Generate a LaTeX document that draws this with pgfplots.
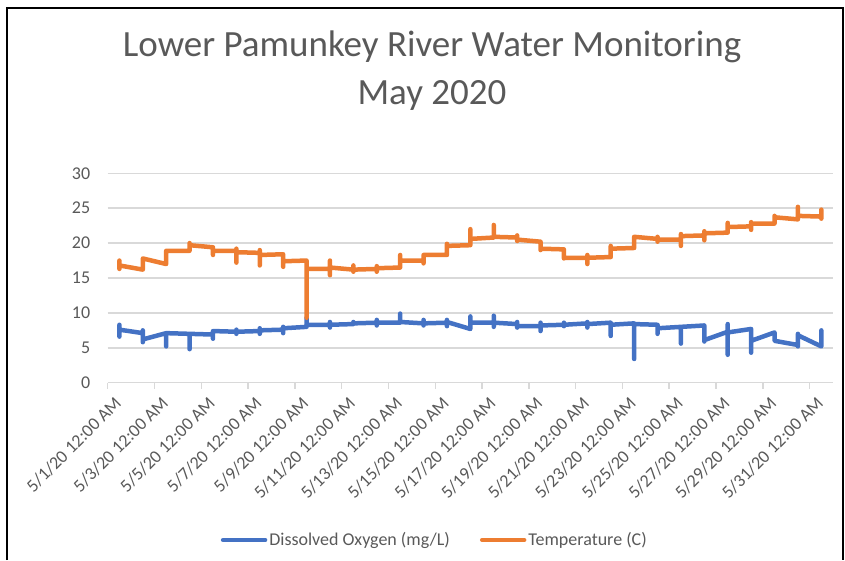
\documentclass[border=0pt]{standalone}
\usepackage{fontspec}
\setmainfont{Carlito}
\usepackage{pgfplots}
\pgfplotsset{compat=1.18}
\definecolor{doblue}{HTML}{4472C4}
\definecolor{temporange}{HTML}{ED7D31}
\definecolor{gridgray}{HTML}{D9D9D9}
\definecolor{txtgray}{HTML}{595959}

\begin{document}
\begin{tikzpicture}[x=1pt,y=1pt]
\path[use as bounding box] (0,0) rectangle (845,560);
\draw[line width=2pt] (7,0) -- (7,552) -- (843,552) -- (843,0);
\node[text=txtgray, font=\fontsize{37}{44}\selectfont] at (432,513) {Lower Pamunkey River Water Monitoring};
\node[text=txtgray, font=\fontsize{37}{44}\selectfont] at (432,465) {May 2020};

\begin{axis}[at={(107.7pt,177.3pt)}, anchor=south west, scale only axis,
  width=725.3pt, height=209.4pt,
  xmin=0.5, xmax=31.5, ymin=0, ymax=30, clip=false,
  axis line style={draw=none},
  ymajorgrids, grid style={gridgray, line width=1.5pt},
  ytick={0,5,...,30}, ytick style={draw=none},
  xtick={0.5,2.5,...,30.5},
  xticklabels={5/1/20 12:00 AM,5/3/20 12:00 AM,5/5/20 12:00 AM,5/7/20 12:00 AM,
    5/9/20 12:00 AM,5/11/20 12:00 AM,5/13/20 12:00 AM,5/15/20 12:00 AM,
    5/17/20 12:00 AM,5/19/20 12:00 AM,5/21/20 12:00 AM,5/23/20 12:00 AM,
    5/25/20 12:00 AM,5/27/20 12:00 AM,5/29/20 12:00 AM,5/31/20 12:00 AM},
  xtick pos=left, ytick pos=left, tick align=outside, major tick length=6pt,
  xtick style={gridgray, line width=1.5pt},
  /pgf/number format/assume math mode=true,
  tick label style={font=\fontsize{18}{22}\selectfont, text=txtgray},
  xticklabel style={xshift=13pt, yshift=-9pt, rotate=45, anchor=east},
  yticklabel style={xshift=-8pt},
  legend style={at={(0.451,-0.751)}, anchor=center, draw=none, fill=none,
    legend columns=2, font=\fontsize{18}{22}\selectfont, text=txtgray,
    nodes={inner sep=2pt},
    /tikz/every even column/.append style={column sep=28pt}},
  legend image code/.code={\draw[#1] (0pt,0pt) -- (42pt,0pt);},
  every axis plot/.append style={line width=4.5pt, line join=round, line cap=round, no marks}]

\addplot[doblue] coordinates {
(1,8.3)(1,6.6)(1,7.6)
(2,7.1)(2,7.5)(2,5.8)(2,6.2)
(3,7.1)(3,5.2)(3,7.1)
(4,7.0)(4,4.8)(4,7.0)
(5,6.9)(5,6.3)(5,7.4)
(6,7.3)(6,7.6)(6,7.0)(6,7.3)
(7,7.4)(7,7.8)(7,7.0)(7,7.5)
(8,7.6)(8,8.0)(8,7.1)(8,7.8)
(9,8.0)(9,9.3)(9,8.3)
(10,8.3)(10,8.7)(10,7.9)(10,8.3)
(11,8.4)(11,8.7)(11,8.5)
(12,8.6)(12,9.0)(12,8.2)(12,8.6)
(13,8.6)(13,9.9)(13,8.7)
(14,8.5)(14,9.0)(14,8.2)(14,8.5)
(15,8.6)(15,9.0)(15,8.1)(15,8.7)
(16,7.7)(16,9.5)(16,8.6)
(17,8.6)(17,9.6)(17,8.0)(17,8.6)
(18,8.4)(18,8.7)(18,7.9)(18,8.1)
(19,8.1)(19,8.6)(19,7.4)(19,8.2)
(20,8.3)(20,8.6)(20,8.1)(20,8.3)
(21,8.5)(21,8.7)(21,7.9)(21,8.4)
(22,8.6)(22,6.7)(22,8.3)
(23,8.5)(23,3.4)(23,8.4)
(24,8.3)(24,7.0)(24,7.8)
(25,8.0)(25,5.6)(25,8.0)
(26,8.2)(26,5.9)(26,6.1)
(27,7.3)(27,8.4)(27,4.0)(27,7.2)
(28,7.7)(28,4.3)(28,6.0)
(29,7.2)(29,6.0)
(30,5.4)(30,7.0)(30,5.2)(30,6.8)
(31,5.2)(31,7.5)
};
\addlegendentry{Dissolved Oxygen (mg/L)}

\addplot[temporange] coordinates {
(1,17.5)(1,16.3)(1,16.8)
(2,16.2)(2,17.8)
(3,17.0)(3,18.9)
(4,18.9)(4,20.0)(4,19.7)
(5,19.4)(5,18.3)(5,18.9)
(6,18.9)(6,19.2)(6,17.2)(6,18.7)
(7,18.6)(7,19.0)(7,16.8)(7,18.3)
(8,18.4)(8,16.6)(8,17.4)
(9,17.5)(9,9.3)(9,16.3)
(10,16.3)(10,17.5)(10,15.4)(10,16.5)
(11,16.2)(11,16.8)(11,15.9)(11,16.2)
(12,16.3)(12,16.7)(12,15.9)(12,16.4)
(13,16.5)(13,18.3)(13,17.5)
(14,17.5)(14,17.1)(14,18.3)
(15,18.3)(15,19.9)(15,19.6)
(16,19.7)(16,22.0)(16,20.6)
(17,20.8)(17,22.6)(17,20.9)
(18,20.8)(18,21.1)(18,20.3)(18,20.5)
(19,20.2)(19,19.0)(19,19.2)
(20,19.1)(20,17.8)(20,17.9)
(21,17.9)(21,18.3)(21,17.0)(21,17.9)
(22,18.0)(22,19.6)(22,19.2)
(23,19.3)(23,20.9)
(24,20.6)(24,20.9)(24,20.2)(24,20.5)
(25,20.5)(25,21.3)(25,19.6)(25,21.0)
(26,21.1)(26,21.7)(26,20.4)(26,21.4)
(27,21.5)(27,22.9)(27,22.3)
(28,22.4)(28,23.0)(28,21.9)(28,22.8)
(29,22.8)(29,23.9)(29,23.7)
(30,23.4)(30,25.2)(30,23.9)
(31,23.8)(31,24.8)(31,23.5)
};
\addlegendentry{Temperature (C)}
\end{axis}
\end{tikzpicture}
\end{document}
